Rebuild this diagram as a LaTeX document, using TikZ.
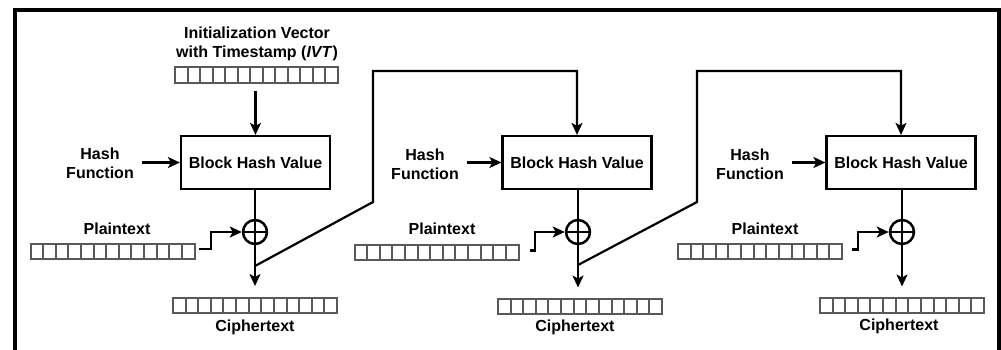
\documentclass[tikz,border=0pt]{standalone}
\usepackage{fontspec}
\setmainfont{Liberation Sans}
\usetikzlibrary{arrows.meta,calc}
\begin{document}
\begin{tikzpicture}[x=1pt,y=-1pt,
  font=\bfseries\fontsize{16}{18.8}\selectfont,
  lbl/.style={inner sep=0pt, align=center},
  hbox/.style={draw, line width=2.2pt, minimum width=149pt, minimum height=53pt, inner sep=0pt},
  reg/.style={draw=black!65, line width=2pt, minimum width=164pt, minimum height=15pt, inner sep=0pt,
    path picture={\foreach \i in {1,...,12}{\draw[black!65,line width=2pt]
      ($(path picture bounding box.south west)!\i/13!(path picture bounding box.south east)$) --
      ($(path picture bounding box.north west)!\i/13!(path picture bounding box.north east)$);}}},
  xorn/.style={circle, draw, line width=2.5pt, minimum size=24pt, inner sep=0pt,
    path picture={\draw[line width=2.5pt] (path picture bounding box.north) -- (path picture bounding box.south)
      (path picture bounding box.west) -- (path picture bounding box.east);}},
  conn/.style={line width=2.2pt},
  arr/.style={line width=2.2pt, -{Stealth[length=12pt,width=11pt,inset=3pt]}}]
\useasboundingbox (0,0) rectangle (1001,349);
% frame
\draw[line width=3.8pt] (15,360) -- (15,10) -- (999,10) -- (999,360);

% section 1
\node[lbl] (ivtt) at (257,44) {Initialization Vector\\with Timestamp (\textit{IVT})};
\node[reg, minimum width=163pt, minimum height=16pt] (ivt) at (256.5,75) {};
\node[hbox] (b1) at (255.5,162.5) {Block Hash Value};
\node[lbl] (h1) at (100,163) {Hash\\Function};
\node[xorn] (x1) at (255,232) {};
\node[lbl] (pt1) at (117,229) {Plaintext};
\node[reg] (p1) at (112.5,251) {};
\node[reg] (c1) at (255,305.5) {};
\node[lbl] (ct1) at (255,327) {Ciphertext};
\coordinate (j1) at (255,266);

% section 2
\node[hbox] (b2) at (577,162.5) {Block Hash Value};
\node[lbl] (h2) at (425,164) {Hash\\Function};
\node[xorn] (x2) at (578,232) {};
\node[lbl] (pt2) at (442,229) {Plaintext};
\node[reg] (p2) at (436.5,252) {};
\node[reg] (c2) at (580,306) {};
\node[lbl] (ct2) at (575,327) {Ciphertext};
\coordinate (j2) at (578,265);

% section 3
\node[hbox] (b3) at (901,162.5) {Block Hash Value};
\node[lbl] (h3) at (750,164) {Hash\\Function};
\node[xorn] (x3) at (902,232) {};
\node[lbl] (pt3) at (765,229) {Plaintext};
\node[reg] (p3) at (760,251) {};
\node[reg] (c3) at (902,305) {};
\node[lbl] (ct3) at (899,326) {Ciphertext};

% connectors section 1
\draw[arr, shorten <=7pt] (ivt.south -| b1.north) -- (b1.north);
\draw[arr, shorten <=8pt] (h1.east |- b1.west) -- (b1.west);
\draw[conn] (b1.south -| x1) -- (x1.north);
\draw[arr, shorten >=11pt] (x1.south) -- (x1.south |- c1.north);
\draw[arr] ([xshift=3pt,yshift=2pt]p1.east) -| ([xshift=-31pt]x1.west) -- (x1.west);
\draw[arr] (j1) -- ++(118,-64) |- ($(b2.north)+(0,-64)$) -- (b2.north);

% connectors section 2
\draw[arr, shorten <=8pt] (h2.east |- b2.west) -- (b2.west);
\draw[conn] (b2.south -| x2) -- (x2.north);
\draw[arr, shorten >=10pt] (x2.south) -- (x2.south |- c2.north);
\draw[arr] ([xshift=10pt,yshift=1.5pt]p2.east) -| ([xshift=-30pt]x2.west) -- (x2.west);
\draw[arr] (j2) -- ++(119,-63) |- ($(b3.north)+(0,-64)$) -- (b3.north);

% connectors section 3
\draw[arr, shorten <=8pt] (h3.east |- b3.west) -- (b3.west);
\draw[conn] (b3.south -| x3) -- (x3.north);
\draw[arr, shorten >=10pt] (x3.south) -- (x3.south |- c3.north);
\draw[arr] ([xshift=9pt,yshift=1.5pt]p3.east) -| ([xshift=-31pt]x3.west) -- (x3.west);
\end{tikzpicture}
\end{document}
